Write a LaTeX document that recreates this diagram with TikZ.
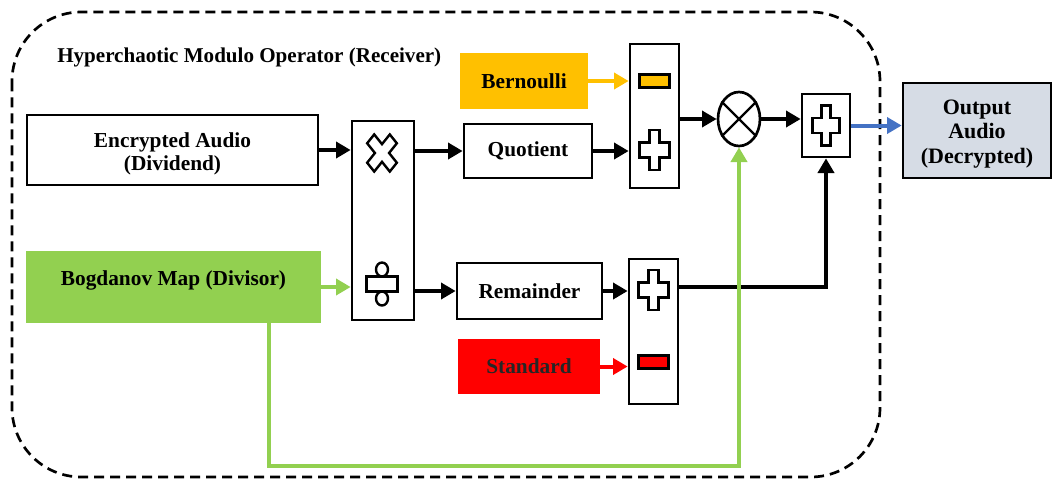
\documentclass[tikz,border=0pt]{standalone}
\usepackage{fontspec}
\setmainfont{Liberation Serif}
\usetikzlibrary{arrows.meta,calc,shapes.geometric}
\definecolor{bgreen}{HTML}{92D050}
\definecolor{borange}{HTML}{FFC000}
\definecolor{bred}{HTML}{FF0000}
\definecolor{bblue}{HTML}{4472C4}
\definecolor{bgray}{HTML}{D6DCE5}
\tikzset{
  box/.style={draw=black, line width=2pt, rectangle, align=center, inner sep=0pt,
    font=\fontsize{16}{17.5}\selectfont\bfseries},
  conn/.style={line width=3pt, -{Triangle[length=11pt,width=12pt]}},
  sym/.style={draw=black, line width=1.8pt, fill=white},
  plussign/.pic={\draw[sym] (-5,-20) -- (5,-20) -- (5,-7.5) -- (15,-7.5) -- (15,7.5) -- (5,7.5) -- (5,20) -- (-5,20) -- (-5,7.5) -- (-15,7.5) -- (-15,-7.5) -- (-5,-7.5) -- cycle;},
  xsign/.pic={\draw[sym] (-5,-16) -- (5,-16) -- (5,-5) -- (16,-5) -- (16,5) -- (5,5) -- (5,16) -- (-5,16) -- (-5,5) -- (-16,5) -- (-16,-5) -- (-5,-5) -- cycle;},
}
\begin{document}
\begin{tikzpicture}[x=0.75pt,y=-0.75pt]
\useasboundingbox (0,0) rectangle (1059,479);
% frame
\draw[line width=2pt, dash pattern=on 7.5pt off 4.5pt, rounded corners=52pt] (12,12) rectangle (880,477);
\node[anchor=west, font=\fontsize{15.8}{17}\selectfont\bfseries, inner sep=0pt] (title) at (57,57) {Hyperchaotic Modulo Operator (Receiver)};
% nodes
\node[box, minimum width=218.25pt, minimum height=52.5pt] (enc) at (172.5,150) {\raisebox{-3pt}[\height][\depth]{\begin{tabular}{@{}c@{}}Encrypted Audio\\(Dividend)\end{tabular}}};
\node[box, draw=bgreen, fill=bgreen, minimum width=219.75pt, minimum height=52.5pt] (bog) at (173.5,287) {\raisebox{5pt}[\height][\depth]{Bogdanov Map (Divisor)}};
\node[box, minimum width=46.5pt, minimum height=149.25pt] (big) at (383,220.5) {};
\node[box, minimum width=96pt, minimum height=40.5pt] (quo) at (528,151) {Quotient};
\node[box, minimum width=108.75pt, minimum height=42pt] (rem) at (529.5,291) {Remainder};
\node[box, draw=borange, fill=borange, minimum width=94.5pt, minimum height=40.5pt] (ber) at (524,81) {Bernoulli};
\node[box, draw=bred, fill=bred, text=black!85, minimum width=105pt, minimum height=39.75pt] (std) at (529,366.5) {Standard};
\node[box, minimum width=36.75pt, minimum height=108pt] (topbox) at (654.5,116) {};
\node[box, minimum width=36.75pt, minimum height=108.75pt] (botbox) at (653.5,331.5) {};
\node[draw=black, line width=2pt, ellipse, inner sep=0pt, minimum width=31.5pt, minimum height=40.5pt] (mul) at (739,119) {};
\draw[line width=1.8pt] (mul.135) -- (mul.-45) (mul.45) -- (mul.-135);
\node[box, minimum width=36pt, minimum height=47.25pt] (addbox) at (826,125.5) {};
\node[box, fill=bgray, minimum width=111pt, minimum height=71.25pt, font=\fontsize{16.5}{18.5}\selectfont\bfseries] (out) at (977,130.5) {\raisebox{-2.5pt}[\height][\depth]{\begin{tabular}{@{}c@{}}Output\\Audio\\(Decrypted)\end{tabular}}};
% symbols
\pic[yscale=1.25, rotate=45] at ($(big.center)+(-1,-67.5)$) {xsign};
\draw[sym] ($(big.center)+(-16.5,56)$) rectangle ($(big.center)+(14.5,71)$);
\draw[sym] ($(big.center)+(-1,49)$) ellipse [x radius=6, y radius=7];
\draw[sym] ($(big.center)+(-1,78)$) ellipse [x radius=6, y radius=7];
\pic at ($(topbox.center)+(0,34)$) {plussign};
\draw[sym, fill=borange] ($(topbox.center)+(-15,-41.5)$) rectangle ($(topbox.center)+(15,-28.5)$);
\pic at ($(botbox.center)+(0,-41.5)$) {plussign};
\draw[sym, fill=bred] ($(botbox.center)+(-15,24)$) rectangle ($(botbox.center)+(15,37)$);
\pic[xscale=0.9] at (addbox.center) {plussign};
% connectors
\draw[conn] (enc.east) -- (enc.east -| big.west);
\draw[conn, bgreen] (bog.east) -- (bog.east -| big.west);
\draw[conn] (big.east |- quo.west) -- (quo.west);
\draw[conn] (big.east |- rem.west) -- (rem.west);
\draw[conn, borange] (ber.east) -- (ber.east -| topbox.west);
\draw[conn] (quo.east) -- (quo.east -| topbox.west);
\draw[conn] (rem.east) -- (rem.east -| botbox.west);
\draw[conn, bred] (std.east) -- (std.east -| botbox.west);
\draw[conn] (topbox.east |- mul.west) -- (mul.west);
\draw[conn] (mul.east) -- (mul.east -| addbox.west);
\draw[conn] ($(botbox.north east)!0.2!(botbox.south east)$) -| (addbox.south);
\draw[conn, bblue] (addbox.east) -- (addbox.east -| out.west);
\draw[conn, bgreen] ($(bog.south west)!0.824!(bog.south east)$) -- ++(0,143) -| (mul.south);
\end{tikzpicture}
\end{document}
